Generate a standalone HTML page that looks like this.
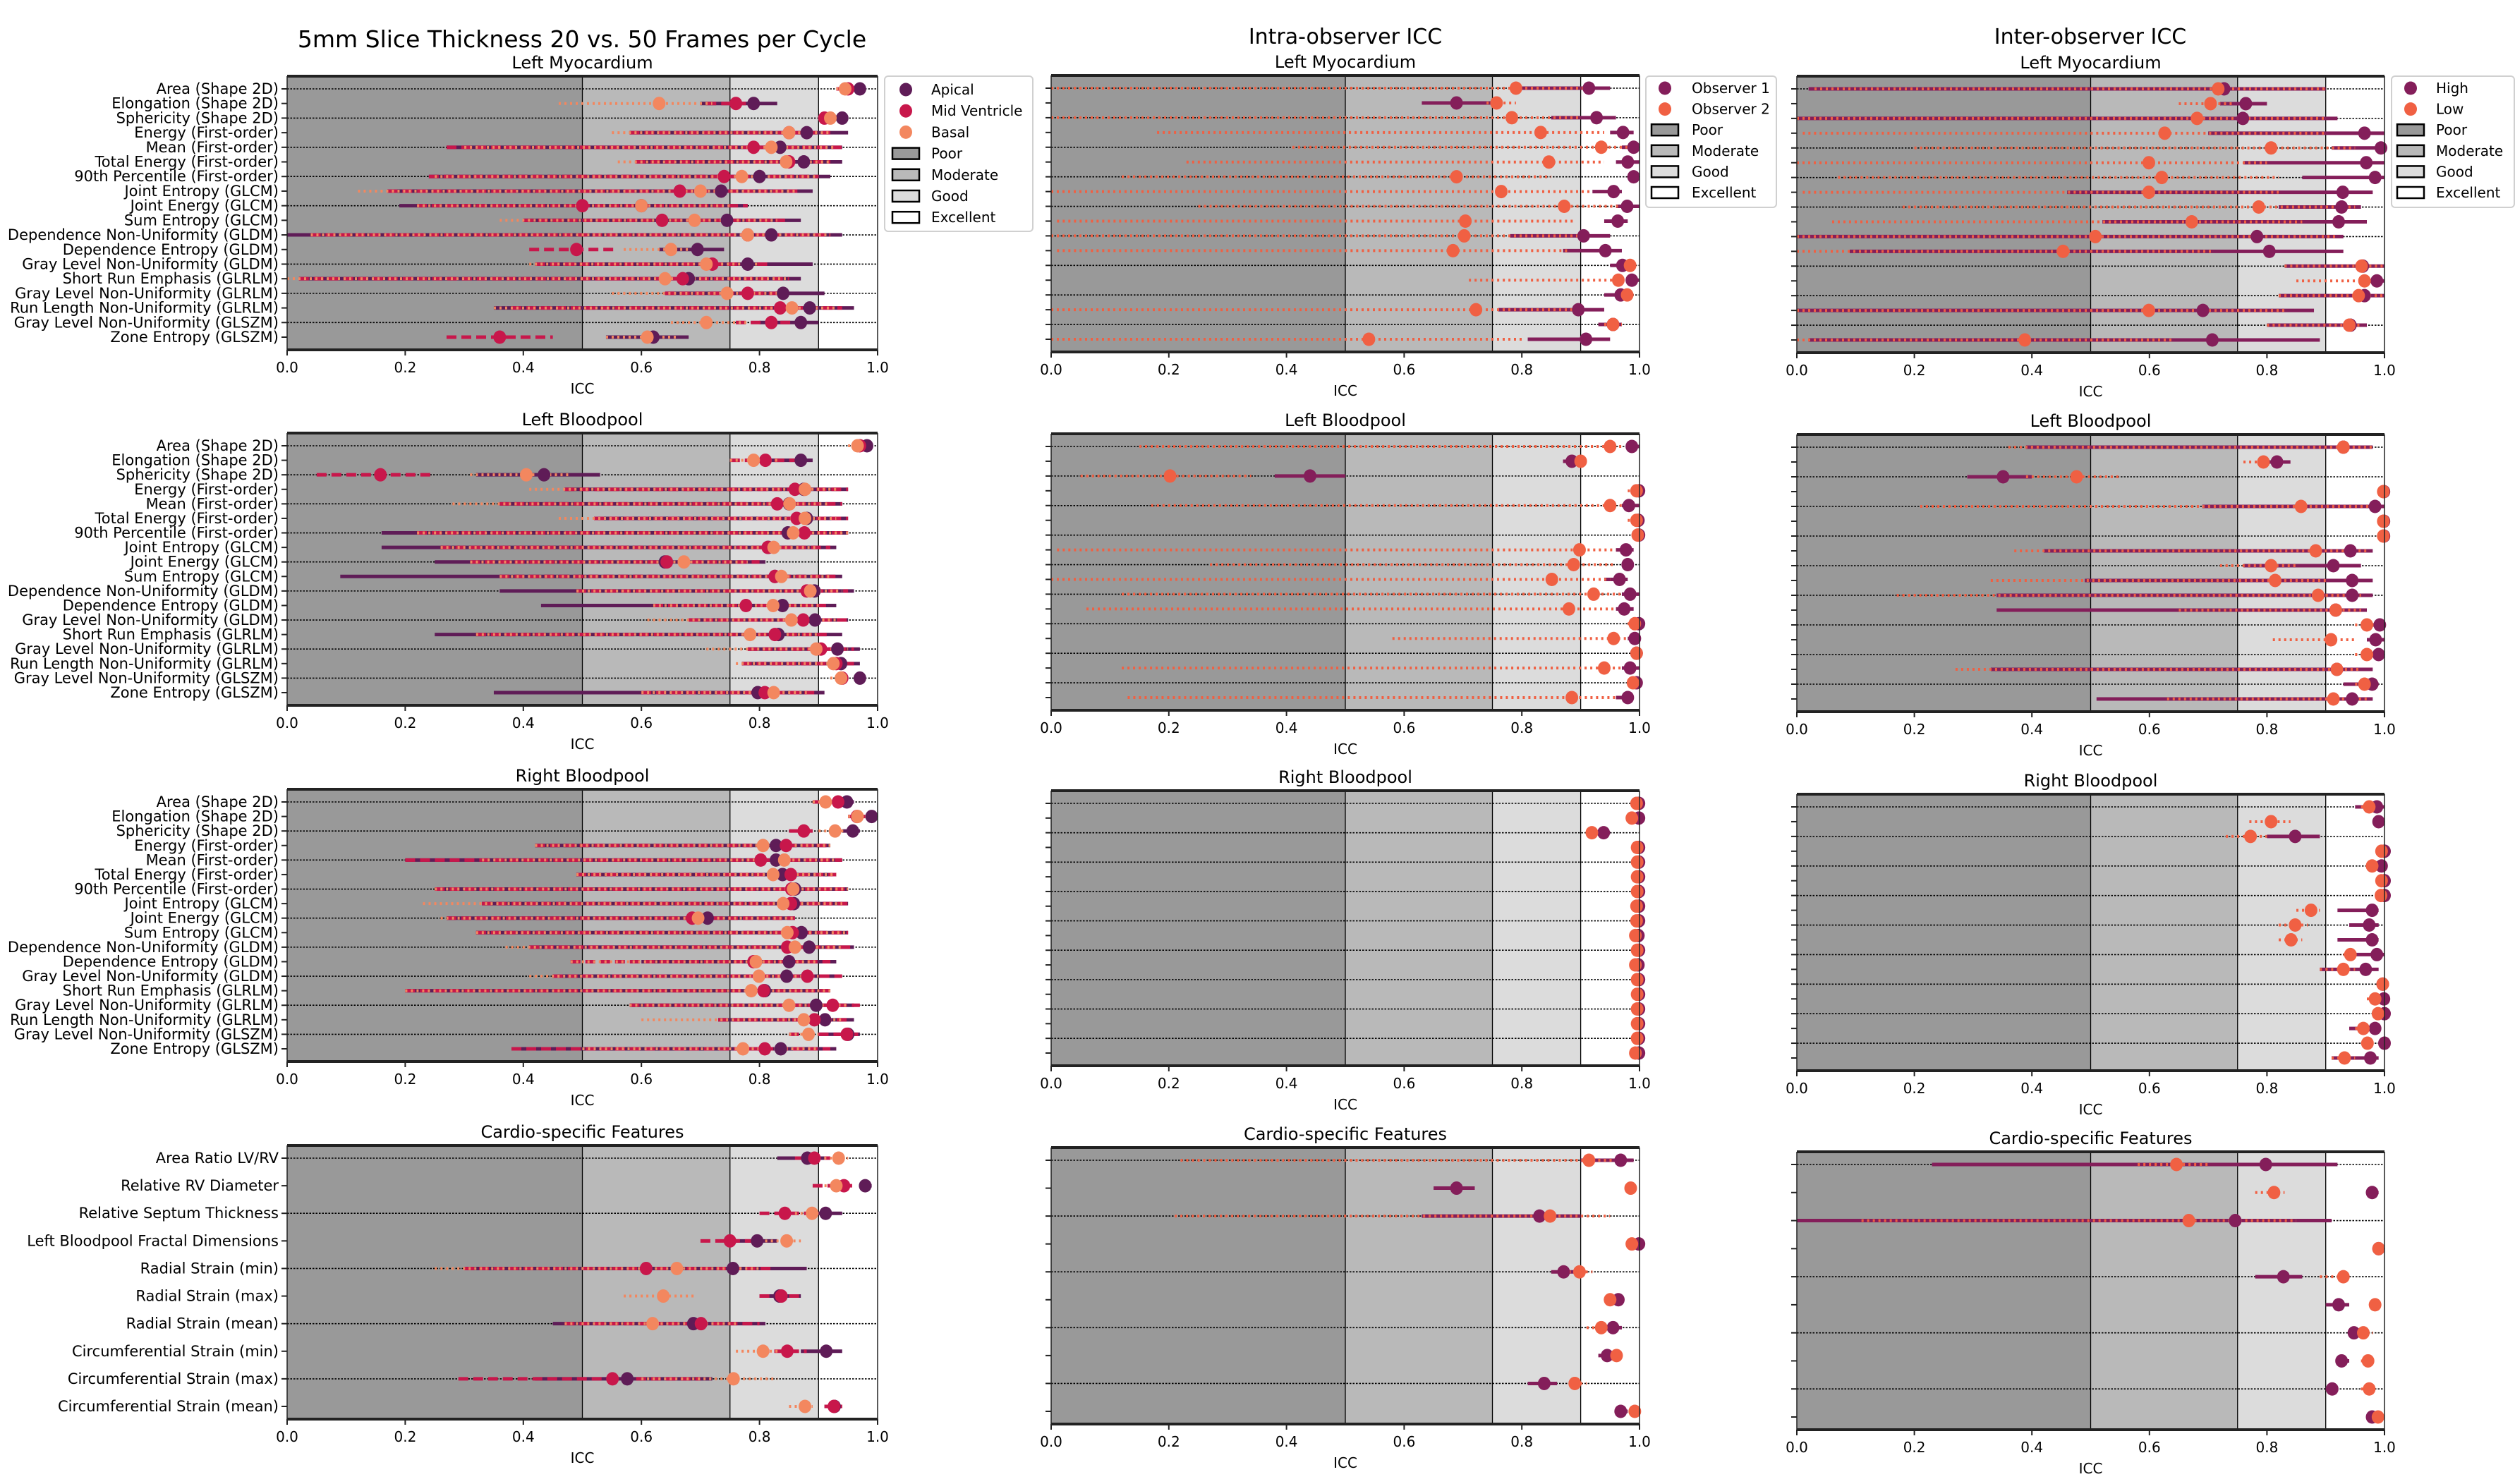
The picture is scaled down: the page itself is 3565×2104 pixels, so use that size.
<!DOCTYPE html>
<html><head><meta charset="utf-8"><style>
html,body{margin:0;padding:0;background:#fff;}
svg text{font-family:"DejaVu Sans","Liberation Sans",sans-serif;fill:#000;}
</style></head><body>
<svg id="fig" xmlns="http://www.w3.org/2000/svg" width="3565" height="2099" viewBox="0 0 3565 2099">
<rect width="3565" height="2099" fill="#fff"/>
<text x="825" y="67" font-size="33" text-anchor="middle">5mm Slice Thickness 20 vs. 50 Frames per Cycle</text>
<text x="1907" y="62" font-size="30" text-anchor="middle">Intra-observer ICC</text>
<text x="2963" y="62" font-size="30" text-anchor="middle">Inter-observer ICC</text>
</svg>
<script>
const radiomicFeatures=["Area (Shape 2D)","Elongation (Shape 2D)","Sphericity (Shape 2D)","Energy (First-order)","Mean (First-order)","Total Energy (First-order)","90th Percentile (First-order)","Joint Entropy (GLCM)","Joint Energy (GLCM)","Sum Entropy (GLCM)","Dependence Non-Uniformity (GLDM)","Dependence Entropy (GLDM)","Gray Level Non-Uniformity (GLDM)","Short Run Emphasis (GLRLM)","Gray Level Non-Uniformity (GLRLM)","Run Length Non-Uniformity (GLRLM)","Gray Level Non-Uniformity (GLSZM)","Zone Entropy (GLSZM)"];
const cardioFeatures=["Area Ratio LV/RV","Relative RV Diameter","Relative Septum Thickness","Left Bloodpool Fractal Dimensions","Radial Strain (min)","Radial Strain (max)","Radial Strain (mean)","Circumferential Strain (min)","Circumferential Strain (max)","Circumferential Strain (mean)"];
const xTicks=[0,0.2,0.4,0.6,0.8,1.0];
const xTickLabels=["0.0","0.2","0.4","0.6","0.8","1.0"];
const bandEdges=[0,0.5,0.75,0.9,1.0];
const bandNames=["Poor","Moderate","Good","Excellent"];

const lmApicalVal=[0.97,0.79,0.94,0.88,0.835,0.875,0.80,0.735,0.60,0.745,0.82,0.695,0.78,0.68,0.84,0.885,0.87,0.62];
const lmApicalLo=[0.95,0.70,0.90,0.58,0.27,0.59,0.24,0.17,0.19,0.40,0.00,0.63,0.43,0.02,0.64,0.35,0.80,0.54];
const lmApicalHi=[0.98,0.83,0.95,0.95,0.94,0.94,0.92,0.89,0.78,0.87,0.94,0.74,0.89,0.87,0.91,0.96,0.90,0.68];
const lmMidVal=[0.95,0.76,0.91,0.85,0.79,0.85,0.74,0.665,0.50,0.635,0.78,0.49,0.72,0.67,0.78,0.835,0.82,0.36];
const lmMidLo=[0.93,0.71,0.90,0.58,0.27,0.59,0.24,0.17,0.22,0.40,0.04,0.41,0.42,0.02,0.64,0.38,0.76,0.27];
const lmMidHi=[0.96,0.80,0.93,0.92,0.94,0.92,0.90,0.87,0.78,0.85,0.92,0.56,0.82,0.85,0.85,0.94,0.88,0.45];
const lmBasalVal=[0.945,0.63,0.92,0.85,0.82,0.845,0.77,0.70,0.60,0.69,0.78,0.65,0.71,0.64,0.745,0.855,0.71,0.61];
const lmBasalLo=[0.93,0.46,0.90,0.55,0.30,0.56,0.25,0.12,0.22,0.36,0.04,0.57,0.41,0.00,0.55,0.35,0.65,0.54];
const lmBasalHi=[0.96,0.72,0.93,0.92,0.93,0.92,0.90,0.86,0.75,0.83,0.92,0.69,0.80,0.85,0.85,0.93,0.78,0.66];

const lbApicalVal=[0.982,0.87,0.435,0.875,0.85,0.88,0.848,0.815,0.64,0.826,0.893,0.839,0.894,0.832,0.932,0.938,0.97,0.797];
const lbApicalLo=[0.96,0.82,0.32,0.47,0.36,0.52,0.16,0.16,0.25,0.09,0.36,0.43,0.68,0.25,0.78,0.77,0.96,0.35];
const lbApicalHi=[0.99,0.89,0.53,0.95,0.94,0.95,0.95,0.93,0.81,0.94,0.96,0.93,0.95,0.94,0.97,0.97,0.98,0.91];
const lbMidVal=[0.97,0.81,0.158,0.86,0.83,0.863,0.876,0.814,0.643,0.826,0.88,0.777,0.874,0.826,0.904,0.93,0.94,0.809];
const lbMidLo=[0.96,0.75,0.05,0.47,0.36,0.52,0.22,0.26,0.31,0.36,0.49,0.62,0.68,0.32,0.78,0.77,0.93,0.60];
const lbMidHi=[0.98,0.86,0.25,0.95,0.94,0.95,0.95,0.92,0.80,0.93,0.95,0.92,0.95,0.92,0.96,0.96,0.95,0.90];
const lbBasalVal=[0.966,0.79,0.405,0.877,0.851,0.877,0.857,0.824,0.672,0.837,0.886,0.823,0.854,0.784,0.896,0.925,0.938,0.824];
const lbBasalLo=[0.95,0.75,0.31,0.41,0.28,0.46,0.22,0.26,0.31,0.36,0.49,0.62,0.61,0.32,0.71,0.76,0.92,0.60];
const lbBasalHi=[0.98,0.83,0.48,0.93,0.92,0.93,0.95,0.90,0.78,0.92,0.94,0.90,0.93,0.90,0.95,0.95,0.95,0.88];

const rbApicalVal=[0.948,0.99,0.958,0.828,0.828,0.839,0.86,0.858,0.712,0.871,0.884,0.85,0.846,0.809,0.896,0.911,0.95,0.836];
const rbApicalLo=[0.89,0.98,0.94,0.42,0.20,0.49,0.25,0.33,0.27,0.32,0.41,0.60,0.45,0.20,0.58,0.73,0.90,0.38];
const rbApicalHi=[0.96,1.0,0.97,0.92,0.94,0.93,0.95,0.95,0.86,0.95,0.96,0.93,0.93,0.92,0.96,0.96,0.97,0.93];
const rbMidVal=[0.933,0.965,0.875,0.845,0.802,0.853,0.854,0.853,0.686,0.856,0.847,0.79,0.881,0.807,0.924,0.893,0.948,0.809];
const rbMidLo=[0.89,0.95,0.85,0.42,0.20,0.49,0.25,0.33,0.27,0.32,0.41,0.48,0.45,0.20,0.58,0.73,0.85,0.38];
const rbMidHi=[0.96,0.98,0.89,0.92,0.94,0.93,0.95,0.95,0.86,0.95,0.96,0.92,0.94,0.92,0.97,0.95,0.97,0.92];
const rbBasalVal=[0.912,0.966,0.928,0.806,0.842,0.823,0.857,0.84,0.696,0.847,0.86,0.794,0.799,0.786,0.85,0.875,0.883,0.772];
const rbBasalLo=[0.89,0.95,0.90,0.42,0.33,0.49,0.25,0.23,0.26,0.32,0.37,0.48,0.41,0.20,0.58,0.60,0.85,0.50];
const rbBasalHi=[0.94,0.98,0.95,0.92,0.93,0.93,0.95,0.94,0.86,0.95,0.94,0.90,0.90,0.92,0.95,0.94,0.90,0.90];

const cfApicalVal=[0.881,0.979,0.912,0.796,0.755,0.834,0.688,0.913,0.576,0.927];
const cfApicalLo=[0.83,0.97,0.88,0.76,0.30,0.80,0.45,0.87,0.42,0.91];
const cfApicalHi=[0.91,0.99,0.94,0.83,0.88,0.87,0.81,0.94,0.72,0.94];
const cfMidVal=[0.893,0.943,0.843,0.75,0.608,0.837,0.701,0.847,0.551,0.926];
const cfMidLo=[0.86,0.89,0.80,0.70,0.30,0.80,0.47,0.80,0.29,0.91];
const cfMidHi=[0.92,0.96,0.90,0.80,0.82,0.87,0.80,0.88,0.70,0.94];
const cfBasalVal=[0.934,0.93,0.889,0.846,0.66,0.637,0.619,0.806,0.756,0.877];
const cfBasalLo=[0.90,0.91,0.86,0.80,0.25,0.57,0.47,0.76,0.60,0.85];
const cfBasalHi=[0.95,0.95,0.90,0.87,0.80,0.69,0.76,0.84,0.83,0.89];

const intraLmO1Val=[0.914,0.689,0.927,0.972,0.99,0.98,0.99,0.956,0.979,0.963,0.905,0.942,0.971,0.987,0.968,0.896,0.955,0.909];
const intraLmO1Lo=[0.79,0.63,0.85,0.95,0.97,0.96,0.98,0.92,0.96,0.94,0.78,0.87,0.95,0.98,0.94,0.76,0.93,0.81];
const intraLmO1Hi=[0.95,0.75,0.96,0.99,1,1,1,0.97,1,0.98,0.95,0.97,0.98,1,0.98,0.94,0.97,0.95];
const intraLmO2Val=[0.79,0.757,0.783,0.832,0.935,0.846,0.689,0.765,0.872,0.704,0.702,0.683,0.984,0.964,0.979,0.722,0.955,0.54];
const intraLmO2Lo=[0,0.74,0,0.18,0.41,0.23,0.12,0,0.25,0.01,0,0.01,0.97,0.71,0.96,0,0.94,0];
const intraLmO2Hi=[0.92,0.79,0.9,0.94,1,0.94,0.85,0.92,0.97,0.89,0.9,0.88,0.99,0.99,0.99,0.9,0.97,0.8];

const intraLbO1Val=[0.987,0.885,0.44,0.999,0.982,0.998,0.999,0.977,0.98,0.966,0.984,0.974,0.999,0.992,0.995,0.984,0.995,0.98];
const intraLbO1Lo=[0.98,0.87,0.38,0.99,0.97,0.99,0.99,0.96,0.97,0.94,0.97,0.96,0.99,0.98,0.99,0.97,0.99,0.96];
const intraLbO1Hi=[1,0.9,0.5,1,1,1,1,0.99,0.99,0.98,1,0.99,1,1,1,1,1,0.99];
const intraLbO2Val=[0.95,0.9,0.202,0.995,0.95,0.995,0.997,0.898,0.888,0.851,0.922,0.88,0.992,0.956,0.995,0.94,0.989,0.885];
const intraLbO2Lo=[0.15,0.89,0.05,0.98,0.17,0.98,0.99,0.01,0.27,0,0.12,0.06,0.98,0.58,0.99,0.12,0.98,0.13];
const intraLbO2Hi=[0.97,0.91,0.34,1,0.98,1,1,0.96,0.96,0.95,0.99,0.96,1,0.99,1,0.98,1,0.96];

const intraRbO1Val=[0.999,0.999,0.939,0.999,0.999,0.999,0.999,0.999,0.999,0.998,0.999,0.998,0.999,0.999,0.999,0.999,0.999,0.999];
const intraRbO1Lo=[0.99,0.99,0.93,0.99,0.99,0.99,0.99,0.99,0.99,0.99,0.99,0.99,0.99,0.99,0.99,0.99,0.99,0.99];
const intraRbO1Hi=[1,1,0.95,1,1,1,1,1,1,1,1,1,1,1,1,1,1,1];
const intraRbO2Val=[0.995,0.987,0.919,0.996,0.996,0.996,0.996,0.995,0.995,0.993,0.996,0.993,0.996,0.996,0.996,0.996,0.996,0.993];
const intraRbO2Lo=[0.99,0.98,0.91,0.99,0.99,0.99,0.99,0.99,0.99,0.99,0.99,0.99,0.99,0.99,0.99,0.99,0.99,0.99];
const intraRbO2Hi=[1,0.99,0.93,1,1,1,1,1,1,1,1,1,1,1,1,1,1,1];

const intraCfO1Val=[0.968,0.689,0.83,0.999,0.871,0.964,0.955,0.945,0.838,0.968];
const intraCfO1Lo=[0.9,0.65,0.63,0.99,0.85,0.95,0.94,0.93,0.81,0.96];
const intraCfO1Hi=[0.99,0.72,0.9,1,0.89,0.97,0.97,0.96,0.86,0.98];
const intraCfO2Val=[0.914,0.985,0.848,0.987,0.898,0.95,0.935,0.961,0.89,0.992];
const intraCfO2Lo=[0.22,0.98,0.21,0.98,0.87,0.94,0.91,0.95,0.88,0.99];
const intraCfO2Hi=[0.96,0.99,0.95,0.99,0.92,0.96,0.95,0.97,0.91,1];

const interLmHighVal=[0.727,0.764,0.759,0.966,0.994,0.969,0.984,0.929,0.927,0.922,0.783,0.804,0.963,0.987,0.966,0.691,0.942,0.707];
const interLmHighLo=[0.02,0.72,0,0.7,0.91,0.76,0.86,0.46,0.82,0.52,0,0.09,0.83,0.97,0.82,0,0.8,0.02];
const interLmHighHi=[0.9,0.8,0.92,1,1,1,1,0.98,0.96,0.97,0.93,0.93,1,1,1,0.88,0.97,0.89];
const interLmLowVal=[0.717,0.704,0.681,0.626,0.807,0.599,0.621,0.599,0.786,0.672,0.508,0.453,0.961,0.966,0.956,0.599,0.94,0.388];
const interLmLowLo=[0.03,0.65,0,0.01,0.2,0,0.07,0.01,0.18,0.06,0,0,0.83,0.85,0.82,0,0.8,0];
const interLmLowHi=[0.9,0.74,0.9,0.9,0.95,0.8,0.82,0.82,0.95,0.86,0.92,0.71,1,0.99,1,0.83,0.96,0.64];

const interLbHighVal=[0.93,0.817,0.351,0.999,0.984,0.999,0.999,0.942,0.913,0.945,0.945,0.917,0.992,0.985,0.99,0.919,0.979,0.945];
const interLbHighLo=[0.39,0.79,0.29,0.99,0.69,0.99,0.99,0.42,0.76,0.49,0.34,0.34,0.98,0.97,0.98,0.33,0.93,0.51];
const interLbHighHi=[0.98,0.84,0.4,1,1,1,1,0.98,0.96,0.98,0.98,0.97,1,1,1,0.98,0.99,0.98];
const interLbLowVal=[0.93,0.794,0.476,0.998,0.858,0.998,0.998,0.883,0.807,0.814,0.887,0.917,0.97,0.909,0.97,0.919,0.966,0.913];
const interLbLowLo=[0.36,0.76,0.39,0.99,0.21,0.99,0.99,0.37,0.72,0.33,0.17,0.65,0.95,0.81,0.95,0.27,0.95,0.63];
const interLbLowHi=[0.98,0.81,0.55,1,0.98,1,1,0.97,0.85,0.9,0.96,0.96,1,0.95,1,0.96,0.98,0.97];

const interRbHighVal=[0.987,0.99,0.848,1,0.995,1,1,0.979,0.974,0.979,0.987,0.968,0.997,0.999,1,0.984,1,0.976];
const interRbHighLo=[0.95,0.98,0.8,0.99,0.99,0.99,0.99,0.92,0.94,0.92,0.95,0.89,0.99,0.99,0.99,0.94,0.99,0.91];
const interRbHighHi=[1,1,0.89,1,1,1,1,0.99,0.99,0.99,1,0.99,1,1,1,0.99,1,0.99];
const interRbLowVal=[0.974,0.807,0.772,0.995,0.979,0.995,0.994,0.875,0.848,0.841,0.942,0.93,0.997,0.984,0.989,0.964,0.971,0.932];
const interRbLowLo=[0.96,0.77,0.73,0.99,0.97,0.99,0.99,0.85,0.82,0.82,0.93,0.89,0.99,0.97,0.98,0.95,0.96,0.91];
const interRbLowHi=[0.98,0.84,0.8,1,0.99,1,1,0.89,0.87,0.86,0.95,0.95,1,0.99,1,0.97,0.98,0.95];

const interCfHighVal=[0.798,0.979,0.746,0.99,0.828,0.922,0.948,0.927,0.911,0.979];
const interCfHighLo=[0.23,0.97,0,0.98,0.78,0.9,0.94,0.92,0.9,0.97];
const interCfHighHi=[0.92,0.99,0.91,1,0.86,0.94,0.96,0.94,0.92,0.99];
const interCfLowVal=[0.646,0.812,0.667,0.99,0.93,0.984,0.964,0.972,0.974,0.989];
const interCfLowLo=[0.58,0.78,0.11,0.98,0.89,0.98,0.95,0.96,0.96,0.98];
const interCfLowHi=[0.7,0.83,0.85,1,0.93,0.99,0.98,0.98,0.98,1];

const NS="http://www.w3.org/2000/svg";
const svg=document.getElementById("fig");
const bandFills=["#999999","#b9b9b9","#dcdcdc","#ffffff"];
const STY={
 apical:{c:"#5f1c57",dash:null,w:5},
 mid:{c:"#c8174b",dash:"14,7",w:5},
 basal:{c:"#f3875f",dash:"3,5",w:4},
 high:{c:"#841e5a",dash:null,w:5},
 low:{c:"#f06043",dash:"3,5",w:4}
};
function mk(tag,attrs,parent){const e=document.createElementNS(NS,tag);for(const k in attrs)e.setAttribute(k,attrs[k]);(parent||svg).appendChild(e);return e;}

function panel(p){
 const g=mk("g",{});
 
 
 const W=p.x1-p.x0;
 const xs=v=>p.x0+v*W;
 const n=p.cats.length,pad=18;
 const ys=i=>p.y0+pad+i*(p.y1-p.y0-2*pad)/(n-1);
 for(let b=0;b<4;b++){
  const r=mk("rect",{x:xs(bandEdges[b]),y:p.y0,width:xs(bandEdges[b+1])-xs(bandEdges[b]),height:p.y1-p.y0,fill:bandFills[b]},g);
  
  
 }
 [0.5,0.75,0.9].forEach(v=>{mk("line",{x1:xs(v),x2:xs(v),y1:p.y0,y2:p.y1,stroke:"#000","stroke-width":1.3},g);});
 for(let i=0;i<n;i+=2){
  const l=mk("line",{x1:p.x0,x2:p.x1,y1:ys(i),y2:ys(i),stroke:"#000","stroke-width":1.6,"stroke-dasharray":"2.5,2"},g);
  
  
 }
 for(let i=0;i<n;i++){
  mk("line",{x1:p.x0-8,x2:p.x0,y1:ys(i),y2:ys(i),stroke:"#222","stroke-width":2},g);
  if(p.labels){
   const t=mk("text",{x:p.x0-12,y:ys(i)+7,"font-size":21,"text-anchor":"end"},g);
   t.textContent=p.cats[i];
   
   
  }
 }
 p.series.forEach(s=>{
  const st=STY[s.key];
  for(let i=0;i<n;i++){
   const a={x1:xs(s.lo[i]),x2:xs(s.hi[i]),y1:ys(i),y2:ys(i),stroke:st.c,"stroke-width":st.w};
   if(st.dash)a["stroke-dasharray"]=st.dash;
   const l=mk("line",a,g);
   
   
  }
 });
 p.series.forEach(s=>{
  const st=STY[s.key];
  for(let i=0;i<n;i++){
   const c=mk("ellipse",{cx:xs(s.val[i]),cy:ys(i),rx:9,ry:9.5,fill:st.c},g);
   
   
  }
 });
 mk("line",{x1:p.x0,x2:p.x0,y1:p.y0,y2:p.y1,stroke:"#222","stroke-width":1.5},g);
 mk("line",{x1:p.x1,x2:p.x1,y1:p.y0,y2:p.y1,stroke:"#222","stroke-width":1.5},g);
 mk("line",{x1:p.x0,x2:p.x1,y1:p.y0,y2:p.y0,stroke:"#222","stroke-width":4},g);
 mk("line",{x1:p.x0,x2:p.x1,y1:p.y1,y2:p.y1,stroke:"#222","stroke-width":4},g);
 xTicks.forEach((v,k)=>{
  mk("line",{x1:xs(v),x2:xs(v),y1:p.y1,y2:p.y1+8,stroke:"#222","stroke-width":2},g);
  const t=mk("text",{x:xs(v),y:p.y1+32,"font-size":20,"text-anchor":"middle"},g);
  t.textContent=xTickLabels[k];
  
  
 });
 const xl=mk("text",{x:(p.x0+p.x1)/2,y:p.y1+62,"font-size":20,"text-anchor":"middle"},g);
 xl.textContent="ICC";
 
 
 const st=mk("text",{x:(p.x0+p.x1)/2,y:p.y0-11,"font-size":24,"text-anchor":"middle"},g);
 st.textContent=p.title;
 
 
}

function legend(x0,y0,w,h,entries,mx,tx,ys0,dy){
 const g=mk("g",{});
 
 
 mk("rect",{x:x0,y:y0,width:w,height:h,rx:5,fill:"#fff",stroke:"#d0d0d0","stroke-width":2},g);
 const all=entries.map(e=>({t:e[0],c:e[1],m:true})).concat(bandNames.map((b,i)=>({t:b,c:bandFills[i],m:false})));
 all.forEach((e,i)=>{
  const y=ys0+i*dy;
  if(e.m){const c=mk("ellipse",{cx:mx,cy:y,rx:9,ry:9.5,fill:e.c},g);}
  else{const r=mk("rect",{x:mx-19,y:y-8,width:38,height:16,fill:e.c,stroke:"#000","stroke-width":2.5},g);}
  const t=mk("text",{x:tx,y:y+7,"font-size":20},g);
  t.textContent=e.t;
  
  
 });
}

const S3=(a,b,c)=>[{key:"apical",val:a[0],lo:a[1],hi:a[2]},{key:"mid",val:b[0],lo:b[1],hi:b[2]},{key:"basal",val:c[0],lo:c[1],hi:c[2]}];
const S2=(a,b)=>[{key:"high",val:a[0],lo:a[1],hi:a[2]},{key:"low",val:b[0],lo:b[1],hi:b[2]}];

panel({name:"slice-left-myocardium",x0:407,x1:1244,y0:108,y1:496,labels:true,cats:radiomicFeatures,title:"Left Myocardium",series:S3([lmApicalVal,lmApicalLo,lmApicalHi],[lmMidVal,lmMidLo,lmMidHi],[lmBasalVal,lmBasalLo,lmBasalHi])});
panel({name:"slice-left-bloodpool",x0:407,x1:1244,y0:614,y1:1000,labels:true,cats:radiomicFeatures,title:"Left Bloodpool",series:S3([lbApicalVal,lbApicalLo,lbApicalHi],[lbMidVal,lbMidLo,lbMidHi],[lbBasalVal,lbBasalLo,lbBasalHi])});
panel({name:"slice-right-bloodpool",x0:407,x1:1244,y0:1119,y1:1505,labels:true,cats:radiomicFeatures,title:"Right Bloodpool",series:S3([rbApicalVal,rbApicalLo,rbApicalHi],[rbMidVal,rbMidLo,rbMidHi],[rbBasalVal,rbBasalLo,rbBasalHi])});
panel({name:"slice-cardio-features",x0:407,x1:1244,y0:1624,y1:2012,labels:true,cats:cardioFeatures,title:"Cardio-specific Features",series:S3([cfApicalVal,cfApicalLo,cfApicalHi],[cfMidVal,cfMidLo,cfMidHi],[cfBasalVal,cfBasalLo,cfBasalHi])});

panel({name:"intra-left-myocardium",x0:1490,x1:2324,y0:107,y1:499,labels:false,cats:radiomicFeatures,title:"Left Myocardium",series:S2([intraLmO1Val,intraLmO1Lo,intraLmO1Hi],[intraLmO2Val,intraLmO2Lo,intraLmO2Hi])});
panel({name:"intra-left-bloodpool",x0:1490,x1:2324,y0:615,y1:1007,labels:false,cats:radiomicFeatures,title:"Left Bloodpool",series:S2([intraLbO1Val,intraLbO1Lo,intraLbO1Hi],[intraLbO2Val,intraLbO2Lo,intraLbO2Hi])});
panel({name:"intra-right-bloodpool",x0:1490,x1:2324,y0:1121,y1:1511,labels:false,cats:radiomicFeatures,title:"Right Bloodpool",series:S2([intraRbO1Val,intraRbO1Lo,intraRbO1Hi],[intraRbO2Val,intraRbO2Lo,intraRbO2Hi])});
panel({name:"intra-cardio-features",x0:1490,x1:2324,y0:1627,y1:2019,labels:false,cats:cardioFeatures,title:"Cardio-specific Features",series:S2([intraCfO1Val,intraCfO1Lo,intraCfO1Hi],[intraCfO2Val,intraCfO2Lo,intraCfO2Hi])});

panel({name:"inter-left-myocardium",x0:2547,x1:3380,y0:108,y1:500,labels:false,cats:radiomicFeatures,title:"Left Myocardium",series:S2([interLmHighVal,interLmHighLo,interLmHighHi],[interLmLowVal,interLmLowLo,interLmLowHi])});
panel({name:"inter-left-bloodpool",x0:2547,x1:3380,y0:616,y1:1009,labels:false,cats:radiomicFeatures,title:"Left Bloodpool",series:S2([interLbHighVal,interLbHighLo,interLbHighHi],[interLbLowVal,interLbLowLo,interLbLowHi])});
panel({name:"inter-right-bloodpool",x0:2547,x1:3380,y0:1126,y1:1518,labels:false,cats:radiomicFeatures,title:"Right Bloodpool",series:S2([interRbHighVal,interRbHighLo,interRbHighHi],[interRbLowVal,interRbLowLo,interRbLowHi])});
panel({name:"inter-cardio-features",x0:2547,x1:3380,y0:1633,y1:2027,labels:false,cats:cardioFeatures,title:"Cardio-specific Features",series:S2([interCfHighVal,interCfHighLo,interCfHighHi],[interCfLowVal,interCfLowLo,interCfLowHi])});

legend(1254,108,210,220,[["Apical","#5f1c57"],["Mid Ventricle","#c8174b"],["Basal","#f3875f"]],1284,1320,127,30.2);
legend(2333,108,185,186,[["Observer 1","#841e5a"],["Observer 2","#f06043"]],2360,2398,125,29.6);
legend(3390,108,174,186,[["High","#841e5a"],["Low","#f06043"]],3417,3453,125,29.6);
</script>
</body></html>
